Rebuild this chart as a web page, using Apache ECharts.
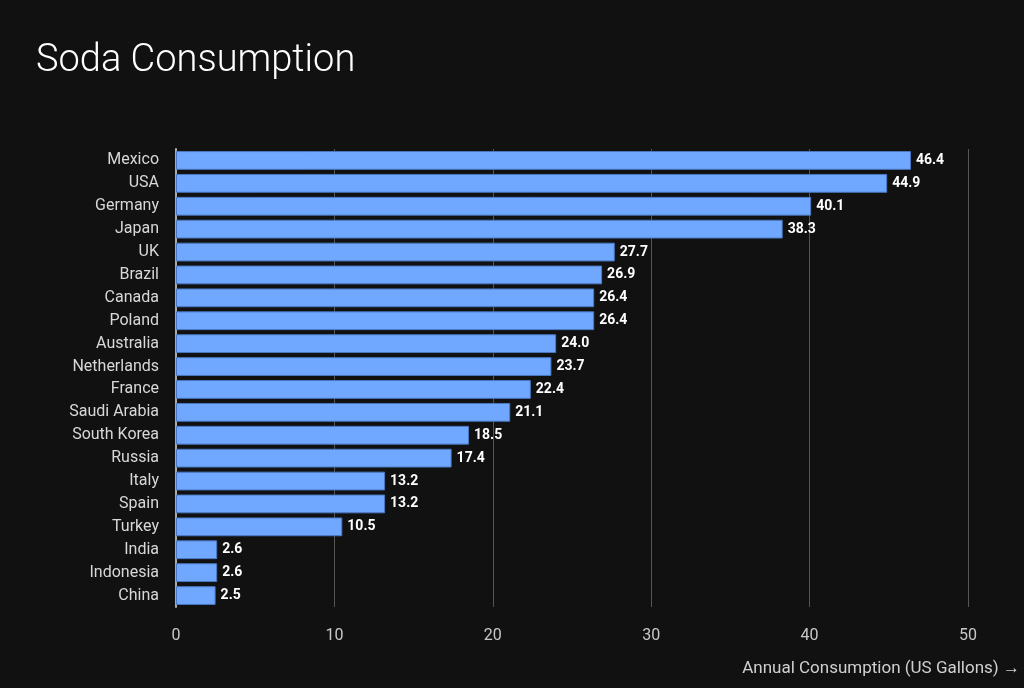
<!DOCTYPE html>
<html>
<head>
<meta charset="utf-8">
<script src="https://cdn.jsdelivr.net/npm/echarts@6/dist/echarts.min.js"></script>
<style>
  html, body { margin: 0; padding: 0; background: #111111; }
  #main { width: 1024px; height: 688px; }
</style>
</head>
<body>
<div id="main"></div>
<script>
var countries = ['Mexico', 'USA', 'Germany', 'Japan', 'UK', 'Brazil', 'Canada', 'Poland', 'Australia', 'Netherlands',
                 'France', 'Saudi Arabia', 'South Korea', 'Russia', 'Italy', 'Spain', 'Turkey', 'India', 'Indonesia', 'China'];
var gallons = [46.4, 44.9, 40.1, 38.3, 27.7, 26.9, 26.4, 26.4, 24.0, 23.7,
               22.4, 21.1, 18.5, 17.4, 13.2, 13.2, 10.5, 2.6, 2.6, 2.5];
var xTicks = [0, 10, 20, 30, 40, 50];

var chart = echarts.init(document.getElementById('main'));

var option = {
    backgroundColor: '#111111',
    animation: false,
    title: {
        text: 'Soda Consumption',
        left: 31,
        top: 37,
        textStyle: {
            color: '#ffffff',
            fontFamily: 'Roboto',
            fontWeight: 300,
            fontSize: 38
        }
    },
    graphic: [{
        type: 'text',
        right: 4,
        top: 660,
        style: {
            text: 'Annual Consumption (US Gallons) \u2192',
            fill: '#d0d0d0',
            font: '17px Roboto'
        }
    }],
    grid: {
        left: 176,
        right: 56,
        top: 149,
        bottom: 81
    },
    xAxis: {
        type: 'value',
        min: xTicks[0],
        max: xTicks[xTicks.length - 1],
        interval: 10,
        axisLine: { show: false },
        axisTick: { show: false },
        axisLabel: {
            color: '#c8c8c8',
            fontFamily: 'Roboto',
            fontSize: 16,
            margin: 21
        },
        splitLine: {
            lineStyle: { color: '#555555', width: 1 }
        }
    },
    yAxis: {
        type: 'category',
        data: countries,
        inverse: true,
        axisLine: { lineStyle: { color: '#aaaaaa', width: 2 } },
        axisTick: { show: false },
        axisLabel: {
            color: '#d8d8d8',
            fontFamily: 'Roboto',
            fontSize: 16,
            margin: 17
        }
    },
    series: [{
        type: 'bar',
        data: gallons,
        barCategoryGap: '18%',
        itemStyle: {
            color: '#70a8ff',
            borderColor: '#4a78c0',
            borderWidth: 1
        },
        label: {
            show: true,
            position: 'right',
            distance: 5,
            color: '#ffffff',
            fontFamily: 'Roboto',
            fontWeight: 'bold',
            fontSize: 14,
            formatter: function (p) { return p.value.toFixed(1); }
        }
    }]
};

chart.setOption(option);
</script>
</body>
</html>
